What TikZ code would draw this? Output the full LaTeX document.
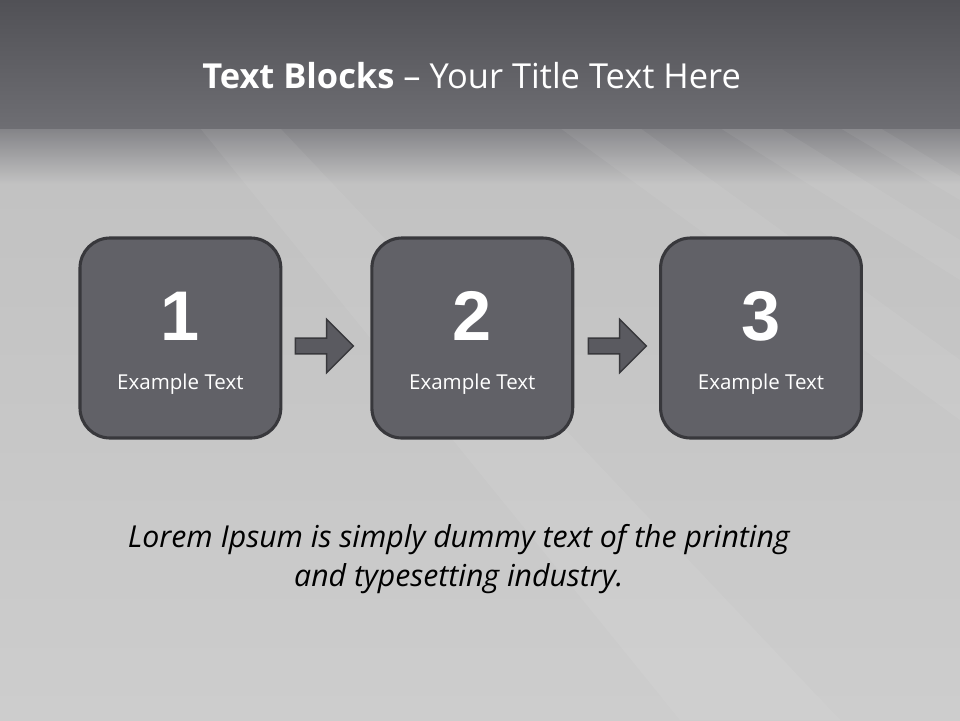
\documentclass[tikz,border=0pt]{standalone}
\usepackage{xcolor}
\usepackage{fontspec}
\setmainfont{Open Sans}
\newfontfamily\numfont{Liberation Sans}
\usepackage{tikz}
\usetikzlibrary{shapes, arrows.meta, positioning, calc}

\definecolor{bandtop}{HTML}{515156}
\definecolor{bandbot}{HTML}{6E6E73}
\definecolor{fadetop}{HTML}{838387}
\definecolor{floortop}{HTML}{C2C2C2}
\definecolor{floorbot}{HTML}{CDCDCD}
\definecolor{blockfill}{HTML}{616167}
\definecolor{blockline}{HTML}{38383C}
\definecolor{arrowfill}{HTML}{5A5A60}

\begin{document}
\begin{tikzpicture}[
    block/.style={draw=blockline, line width=2.2pt, fill=blockfill, rounded corners=0.75cm,
        minimum width=5.02cm, minimum height=5cm},
    numtext/.style={text=white, font=\numfont\bfseries\fontsize{50}{50}\selectfont, anchor=base, inner sep=0pt},
    smalltext/.style={text=white, font=\fontsize{14.6}{16}\selectfont, anchor=base, inner sep=0pt},
    blockarrow/.style={single arrow, draw=blockline, line width=1pt, fill=arrowfill,
        minimum height=1.45cm, minimum width=1.3cm, single arrow head extend=0.47cm,
        single arrow head indent=0cm, inner sep=0.18cm},
    streak/.style={white, opacity=0.06}
]
    % background
    \useasboundingbox (0,0) rectangle (24,-18);
    \shade[top color=floortop, bottom color=floorbot] (0,-4.6) rectangle (24,-18);
    \shade[top color=fadetop, bottom color=floortop] (0,-3.2) rectangle (24,-4.6);
    \fill[streak] (14,-3.2) -- (16,-3.2) -- (24,-9) -- (24,-10.5) -- cycle;
    \fill[streak] (18,-3.2) -- (19.5,-3.2) -- (24,-6) -- (24,-7) -- cycle;
    \fill[streak] (5,-3.2) -- (7,-3.2) -- (21,-18) -- (17,-18) -- cycle;
    \fill[streak] (21,-3.2) -- (22,-3.2) -- (24,-4.4) -- (24,-5) -- cycle;
    \shade[top color=bandtop, bottom color=bandbot] (0,0) rectangle (24,-3.2);

    % title
    \node[text=white, font=\fontsize{24.5}{30}\selectfont, anchor=base] (title) at (11.79,-2.2)
        {\textbf{Text Blocks} -- Your Title Text Here};

    % blocks
    \node[block] (b1) at (4.51,-8.45) {};
    \node[block, right=2.2cm of b1] (b2) {};
    \node[block, right=2.12cm of b2] (b3) {};

    \node[numtext] (n1) at ([yshift=-0.05cm]b1.center) {1};
    \node[numtext] (n2) at ([yshift=-0.05cm]b2.center) {2};
    \node[numtext] (n3) at ([yshift=-0.05cm]b3.center) {3};

    \node[smalltext] (t1) at ([yshift=-1.28cm]b1.center) {Example Text};
    \node[smalltext] (t2) at ([yshift=-1.28cm]b2.center) {Example Text};
    \node[smalltext] (t3) at ([yshift=-1.28cm]b3.center) {Example Text};

    % arrows
    \node[blockarrow] (a1) at ([xshift=-0.15cm,yshift=-0.2cm]$(b1.east)!0.5!(b2.west)$) {};
    \node[blockarrow] (a2) at ([xshift=-0.08cm,yshift=-0.2cm]$(b2.east)!0.5!(b3.west)$) {};

    % caption
    \node[font=\itshape\fontsize{21.5}{27.7}\selectfont, align=center, anchor=base, inner sep=0pt] (caption) at (11.47,-14.65)
        {Lorem Ipsum is simply dummy text of the printing\\and typesetting industry.};
\end{tikzpicture}
\end{document}
